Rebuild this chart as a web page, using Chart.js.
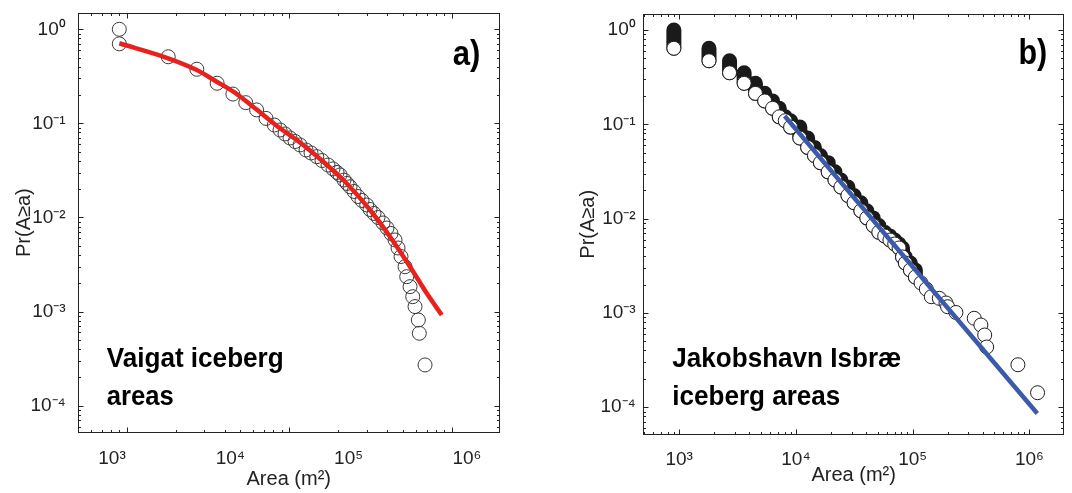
<!DOCTYPE html>
<html><head><meta charset="utf-8">
<script src="https://cdn.jsdelivr.net/npm/chart.js@4.4.1/dist/chart.umd.min.js"></script>
<style>
html,body{margin:0;padding:0;background:#fff;}
#wrap{position:relative;width:1072px;height:493px;overflow:hidden;}
.pane{position:absolute;top:0;width:536px;height:493px;}
canvas{display:block;}
</style></head><body>
<div id="wrap">
<div class="pane" style="left:0"><canvas id="ca" width="536" height="493"></canvas></div>
<div class="pane" style="left:536px"><canvas id="cb" width="536" height="493"></canvas></div>
</div>
<script>
// ---------------- data ----------------
// tick label exponents
const xTickExp = [3, 4, 5, 6];
const yTickExp = [0, -1, -2, -3, -4];

// axis ranges
const aXRange = [497.7, 198200];      // panel a: data / tick-mark scale
const aXLabelRange = [511, 1.905e6];  // panel a: tick-label scale
const aYRange = [5.19e-5, 1.50];
const bXRange = [492.5, 1.98e6];
const bYRange = [5.135e-5, 1.478];

// panel a: Vaigat iceberg areas (m^2) and exceedance probability
const aArea = [900, 900, 1800, 2700, 3600, 4500, 5400, 6300, 7200, 8100,
  8780, 9420, 10110, 10860, 11650, 12690, 13620, 14770, 15920, 17330,
  18600, 19690, 20540, 21740, 22680, 23670, 25050, 26510, 28050, 29990,
  31420, 33250, 35200, 37780, 39980, 42320, 44790, 46720, 48750, 51590,
  52850, 55380, 57540, 59450, 62300, 63180, 68510];
const aProb = [1.0, 0.70, 0.51, 0.376, 0.267, 0.205, 0.166, 0.139, 0.113, 0.096,
  0.0851, 0.0772, 0.0700, 0.0642, 0.0590, 0.0522, 0.0485, 0.0443, 0.0403, 0.0361,
  0.0328, 0.0301, 0.0283, 0.0250, 0.0230, 0.0212, 0.0189, 0.0167, 0.01516, 0.01358,
  0.01216, 0.01103, 0.0100, 0.00874, 0.00773, 0.00676, 0.00577, 0.00474, 0.00385, 0.00300,
  0.00235, 0.00184, 0.00144, 0.00113, 0.000814, 0.000588, 0.000271];
// panel a: fitted curve
const aFitArea = [900, 1800, 2700, 3580, 4530, 5480, 6930, 8780, 11120, 14070, 21520, 31420, 41720, 55380, 70190, 86800];
const aFitProb = [0.710, 0.492, 0.369, 0.277, 0.217, 0.170, 0.1228, 0.0887, 0.0666, 0.0481, 0.0250, 0.0120, 0.00625, 0.0030, 0.001565, 0.00092];

// panel b: Jakobshavn Isbrae iceberg areas; stacked columns of repeated areas
const bColArea = [900, 1800, 2700, 3600, 4500, 5400, 6300, 7200, 8100,
  9000, 10800, 12600, 14400, 16200, 18900, 21600, 24300, 27900, 31500,
  36000, 40500, 45900, 51300, 57600, 63900, 70200, 76500, 81900,
  86600, 95600, 105500];
const bColTop = [1.0, 0.64, 0.472, 0.352, 0.272, 0.213, 0.177, 0.148, 0.12,
  0.1092, 0.0934, 0.0716, 0.0569, 0.0467, 0.0392, 0.0313, 0.0257, 0.0216, 0.0176,
  0.01474, 0.0121, 0.01017, 0.00845, 0.00717, 0.00654, 0.00593, 0.00538, 0.00488,
  0.00392, 0.00338, 0.00285];
const bColBottom = [0.64, 0.472, 0.352, 0.272, 0.213, 0.177, 0.148, 0.12, 0.1092,
  0.0934, 0.0716, 0.0569, 0.0467, 0.0392, 0.0313, 0.0257, 0.0216, 0.0176, 0.01474,
  0.0121, 0.01017, 0.00845, 0.00717, 0.00654, 0.00593, 0.00538, 0.00488, 0.00392,
  0.00338, 0.00285, 0.0024];
// panel b: single large icebergs (tail)
const bTailArea = [118000, 130900, 144500, 169100, 193000, 199200, 234900, 336900, 384200, 414200, 430800, 797600, 1175000];
const bTailProb = [0.002075, 0.001792, 0.001485, 0.001428, 0.001274, 0.001163, 0.00101, 0.000877, 0.000744, 0.000583, 0.000435, 0.000282, 0.0001425];
// panel b: power-law fit
const bFitArea = [8010, 1170000];
const bFitProb = [0.1225, 8.57e-5];

// ---------------- helpers ----------------
const FONT = "'Liberation Sans', Arial, Helvetica, sans-serif";
const SUP = {'0':'⁰','1':'¹','2':'²','3':'³','4':'⁴','5':'⁵','6':'⁶','7':'⁷','8':'⁸','9':'⁹','-':'⁻'};
const fmtPow = v => '10' + String(Math.round(Math.log10(v))).split('').map(c => SUP[c]).join('');
const zip = (xs, ys) => xs.map((x, i) => ({x, y: ys[i]}));

const framePlugin = {
  id: 'frame',
  afterDraw(chart, args, opts) {
    const {ctx, chartArea: a} = chart;
    const xs = chart.scales[opts.xScale], ys = chart.scales.y;
    const L = Math.round(a.left) + 0.5, R = Math.round(a.right) - 0.5;
    const T = Math.round(a.top) + 0.5, B = Math.round(a.bottom) - 0.5;
    ctx.save();
    ctx.strokeStyle = '#222';
    ctx.lineWidth = 1;
    ctx.strokeRect(L, T, R - L, B - T);
    ctx.beginPath();
    const marks = (s, cb) => {
      const e0 = Math.floor(Math.log10(s.min)), e1 = Math.ceil(Math.log10(s.max));
      for (let e = e0; e <= e1; e++) for (let d = 1; d <= 9; d++) {
        const v = d * Math.pow(10, e);
        if (v < s.min || v > s.max) continue;
        cb(Math.round(s.getPixelForValue(v)) + 0.5, d === 1 ? 5 : 2.5);
      }
    };
    marks(xs, (p, len) => { ctx.moveTo(p, B); ctx.lineTo(p, B - len); ctx.moveTo(p, T); ctx.lineTo(p, T + len); });
    marks(ys, (p, len) => { ctx.moveTo(L, p); ctx.lineTo(L + len, p); ctx.moveTo(R, p); ctx.lineTo(R - len, p); });
    ctx.stroke();
    ctx.restore();
  }
};

const notesPlugin = {
  id: 'notes',
  afterDraw(chart, args, opts) {
    const ctx = chart.ctx;
    ctx.save();
    ctx.fillStyle = '#000';
    ctx.textBaseline = 'alphabetic';
    for (const t of opts.items) {
      ctx.font = 'bold ' + t.size + 'px ' + FONT;
      const w = ctx.measureText(t.text).width;
      ctx.save();
      ctx.translate(t.x, t.y);
      ctx.scale(t.width / w, 1);
      ctx.fillText(t.text, 0, 0);
      ctx.restore();
    }
    ctx.restore();
  }
};

function makePanel(id, P) {
  const powTicks = exps => s => { s.ticks = exps.map(e => ({value: Math.pow(10, e)})); };
  return new Chart(document.getElementById(id), {
    type: 'scatter',
    data: {datasets: P.datasets},
    plugins: [framePlugin, notesPlugin],
    options: {
      responsive: false,
      animation: false,
      devicePixelRatio: 1,
      layout: {padding: {left: 0, right: P.padRight, top: P.padTop, bottom: 0}},
      events: [],
      plugins: {
        legend: {display: false},
        tooltip: {enabled: false},
        frame: {xScale: 'x'},
        notes: {items: P.notes}
      },
      scales: {
        x: {
          type: 'logarithmic', position: 'bottom', display: false,
          min: P.xRange[0], max: P.xRange[1]
        },
        xl: {
          type: 'logarithmic', position: 'bottom',
          min: P.xLabelRange[0], max: P.xLabelRange[1],
          afterBuildTicks: powTicks(xTickExp),
          afterFit: s => { s.height = P.xHeight; s.paddingLeft = 0; s.paddingRight = 0; },
          grid: {display: false, drawTicks: false},
          border: {display: false},
          ticks: {callback: v => fmtPow(v), font: {size: 19, family: FONT}, color: '#222',
                  padding: P.xLabelPad, autoSkip: false, maxRotation: 0, minRotation: 0},
          title: {display: true, text: 'Area (m²)', font: {size: 20, family: FONT}, color: '#222',
                  padding: {top: 0, bottom: P.xTitlePad}}
        },
        y: {
          type: 'logarithmic', position: 'left',
          min: P.yRange[0], max: P.yRange[1],
          afterBuildTicks: powTicks(yTickExp),
          afterFit: s => { s.width = P.yWidth; s.paddingTop = 0; s.paddingBottom = 0; },
          grid: {display: false, drawTicks: false},
          border: {display: false},
          ticks: {callback: v => fmtPow(v), font: {size: 19, family: FONT}, color: '#222',
                  padding: P.yLabelPad, autoSkip: false},
          title: {display: true, text: 'Pr(A≥a)', font: {size: 20, family: FONT}, color: '#222',
                  padding: {top: P.yTitlePad, bottom: 0}}
        }
      }
    }
  });
}

// ---------------- panel a ----------------
makePanel('ca', {
  xRange: aXRange, xLabelRange: aXLabelRange, yRange: aYRange,
  yWidth: 77.5, padRight: 36, padTop: 12.7, xHeight: 60.5,
  yLabelPad: 11.8, xLabelPad: 15, yTitlePad: 12, xTitlePad: 2,
  datasets: [
    {type: 'line', data: zip(aFitArea, aFitProb), xAxisID: 'x', yAxisID: 'y',
     borderColor: '#e5221d', borderWidth: 4.5, pointRadius: 0, cubicInterpolationMode: 'monotone',
     fill: false, order: 0},
    {type: 'scatter', data: zip(aArea, aProb), xAxisID: 'x', yAxisID: 'y',
     pointRadius: 7, borderWidth: 1, borderColor: '#3a3a3a', backgroundColor: 'rgba(255,255,255,0)',
     order: 1}
  ],
  notes: [
    {text: 'Vaigat iceberg', x: 106.7, y: 366.7, size: 27, width: 177},
    {text: 'areas', x: 106.7, y: 405, size: 27, width: 67},
    {text: 'a)', x: 452.8, y: 64.8, size: 35, width: 27.6}
  ]
});

// ---------------- panel b ----------------
const bStack = [];
bColArea.forEach((a, i) => {
  bStack.push({x: a, y: bColTop[i]}, {x: a, y: bColBottom[i]}, {x: a, y: null});
});
makePanel('cb', {
  xRange: bXRange, xLabelRange: bXRange, yRange: bYRange,
  yWidth: 107.3, padRight: 7, padTop: 14, xHeight: 58.5,
  yLabelPad: 7.6, xLabelPad: 14, yTitlePad: 40.3, xTitlePad: 5.4,
  datasets: [
    {type: 'line', data: zip(bFitArea, bFitProb), xAxisID: 'x', yAxisID: 'y',
     borderColor: '#3b5ba8', borderWidth: 4.5, pointRadius: 0, fill: false, order: 0},
    {type: 'scatter', data: zip(bColArea, bColBottom).concat(zip(bTailArea, bTailProb)), xAxisID: 'x', yAxisID: 'y',
     pointRadius: 7, borderWidth: 1, borderColor: '#1e1e1e', backgroundColor: '#ffffff', order: 1},
    {type: 'line', data: bStack, xAxisID: 'x', yAxisID: 'y', spanGaps: false,
     borderColor: '#1a1a1a', borderWidth: 15, borderCapStyle: 'round', pointRadius: 0, fill: false, order: 2}
  ],
  notes: [
    {text: 'Jakobshavn Isbræ', x: 136.3, y: 366.7, size: 27, width: 229},
    {text: 'iceberg areas', x: 136.3, y: 405, size: 27, width: 168},
    {text: 'b)', x: 482.4, y: 63.5, size: 35, width: 28.8}
  ]
});
</script>
</body></html>
